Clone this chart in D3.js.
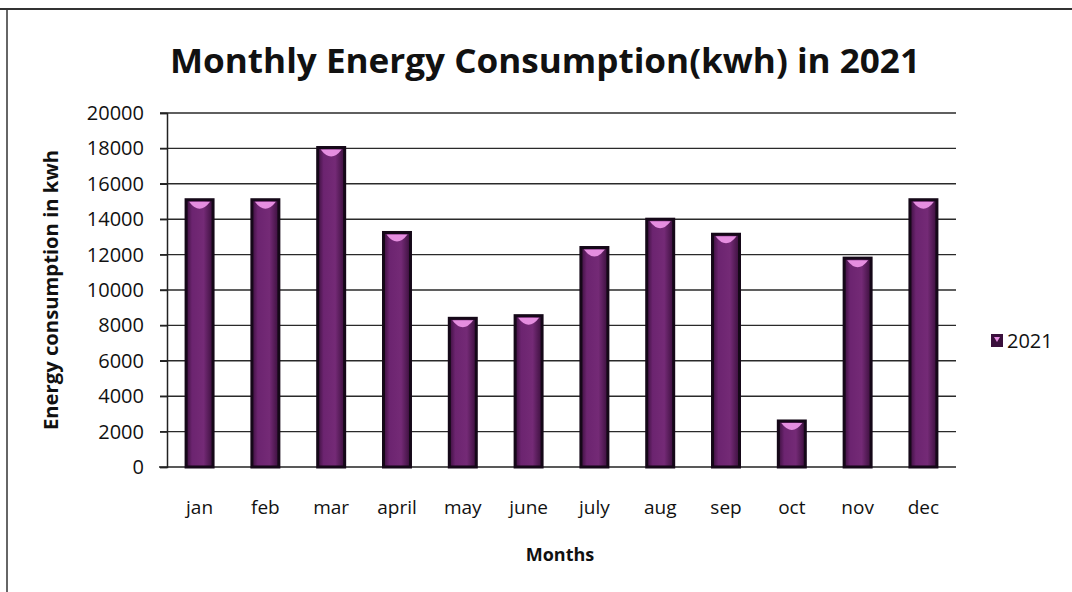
<!DOCTYPE html>
<html>
<head>
<meta charset="utf-8">
<script src="https://cdn.jsdelivr.net/npm/d3@7/dist/d3.min.js"></script>
<style>
  body { margin: 0; background: #fff; }
  text { font-family: "Open Sans", "Noto Sans", sans-serif; fill: #111; }
</style>
</head>
<body>
<svg class="chart" width="1072" height="592"></svg>
<script>
var months = ["jan", "feb", "mar", "april", "may", "june", "july", "aug", "sep", "oct", "nov", "dec"];
var values2021 = [15100, 15100, 18050, 13250, 8400, 8550, 12400, 14000, 13150, 2600, 11800, 15100];
var yTicks = [0, 2000, 4000, 6000, 8000, 10000, 12000, 14000, 16000, 18000, 20000];
var seriesName = "2021";

(function() {
  var margin = {top: 113, right: 116, bottom: 125, left: 167};

  var svg = d3.select(".chart"),
      svgWidth  = +svg.attr("width"),
      svgHeight = +svg.attr("height"),
      width = svgWidth - margin.left - margin.right,
      height = svgHeight - margin.top - margin.bottom;

  // bar gradient: dark edges, purple body
  var defs = svg.append("defs");
  var grad = defs.append("linearGradient").attr("id", "barGrad")
    .attr("x1", "0%").attr("x2", "100%");
  grad.append("stop").attr("offset", "0%").attr("stop-color", "#3a0f3c");
  grad.append("stop").attr("offset", "22%").attr("stop-color", "#6c2470");
  grad.append("stop").attr("offset", "65%").attr("stop-color", "#742a76");
  grad.append("stop").attr("offset", "100%").attr("stop-color", "#3a0f3c");

  // page border (scanned frame)
  svg.append("line").attr("x1", 0).attr("x2", svgWidth).attr("y1", 9).attr("y2", 9)
    .attr("stroke", "#333").attr("stroke-width", 2);
  svg.append("line").attr("x1", 7).attr("x2", 7).attr("y1", 9).attr("y2", svgHeight)
    .attr("stroke", "#333").attr("stroke-width", 1.5);

  var chart = svg.append("g")
    .attr("transform", "translate(" + margin.left + "," + margin.top + ")");

  var xScale = d3.scaleBand()
    .domain(months)
    .range([0, width])
    .paddingInner(0.59)
    .paddingOuter(0.29);

  var yScale = d3.scaleLinear()
    .domain([0, 20000])
    .range([height, 0]);

  // gridlines
  chart.append("g")
    .selectAll("line")
    .data(yTicks.slice(1))
    .enter().append("line")
    .attr("x1", -7)
    .attr("x2", width)
    .attr("y1", function(d) { return yScale(d); })
    .attr("y2", function(d) { return yScale(d); })
    .attr("stroke", "#2a2a2a")
    .attr("stroke-width", 1.4);

  // y axis
  var yAxis = d3.axisLeft(yScale)
    .tickValues(yTicks)
    .tickSize(7)
    .tickPadding(16)
    .tickFormat(function(d) { return d; });

  var yG = chart.append("g").call(yAxis);
  yG.select(".domain").attr("stroke", "#222").attr("stroke-width", 1.5);
  yG.selectAll(".tick line").attr("stroke", "#222").attr("stroke-width", 1.4);
  yG.selectAll("text")
    .style("font-family", "'Open Sans', sans-serif")
    .style("font-size", "20px")
    .attr("fill", "#111");

  // x baseline
  chart.append("line")
    .attr("x1", -8).attr("x2", width)
    .attr("y1", height).attr("y2", height)
    .attr("stroke", "#222").attr("stroke-width", 1.6);

  // bars
  var bar = chart.selectAll(".bar")
    .data(values2021)
    .enter().append("g")
    .attr("class", "bar")
    .attr("transform", function(d, i) {
      return "translate(" + xScale(months[i]) + ",0)";
    });

  bar.append("rect")
    .attr("y", function(d) { return yScale(d); })
    .attr("height", function(d) { return height - yScale(d); })
    .attr("width", xScale.bandwidth())
    .attr("fill", "url(#barGrad)")
    .attr("stroke", "#150818")
    .attr("stroke-width", 3);

  // pink top cap
  bar.append("path")
    .attr("d", function(d) {
      var w = xScale.bandwidth(), y0 = yScale(d) + 2;
      return "M" + 3 + "," + y0 + " L" + (w - 3) + "," + y0 +
        " Q" + (w / 2) + "," + (y0 + 14) + " 3," + y0 + "Z";
    })
    .attr("fill", "#e58ee0");

  // x labels
  chart.append("g")
    .selectAll("text")
    .data(months)
    .enter().append("text")
    .attr("x", function(d) { return xScale(d) + xScale.bandwidth() / 2; })
    .attr("y", height + 47)
    .attr("text-anchor", "middle")
    .style("font-size", "19px")
    .text(function(d) { return d; });

  // titles
  svg.append("text")
    .attr("x", 545)
    .attr("y", 73)
    .attr("text-anchor", "middle")
    .style("font-size", "34px")
    .style("font-weight", "700")
    .attr("textLength", 750)
    .attr("lengthAdjust", "spacingAndGlyphs")
    .text("Monthly Energy Consumption(kwh) in 2021");

  svg.append("text")
    .attr("transform", "translate(58," + 290 + ") rotate(-90)")
    .attr("text-anchor", "middle")
    .style("font-size", "19px")
    .style("font-weight", "700")
    .attr("textLength", 280)
    .attr("lengthAdjust", "spacingAndGlyphs")
    .text("Energy consumption in kwh");

  svg.append("text")
    .attr("x", 560)
    .attr("y", 561)
    .attr("text-anchor", "middle")
    .style("font-size", "18px")
    .style("font-weight", "700")
    .text("Months");

  // legend
  var legend = svg.append("g").attr("transform", "translate(991,334)");
  legend.append("rect")
    .attr("width", 12).attr("height", 13)
    .attr("fill", "#3a0f3c");
  legend.append("path")
    .attr("d", "M3,3 L9,3 L6,8 Z")
    .attr("fill", "#e58ee0");
  legend.append("text")
    .attr("x", 16)
    .attr("y", 14)
    .style("font-size", "20px")
    .text(seriesName);
})();
</script>
</body>
</html>
